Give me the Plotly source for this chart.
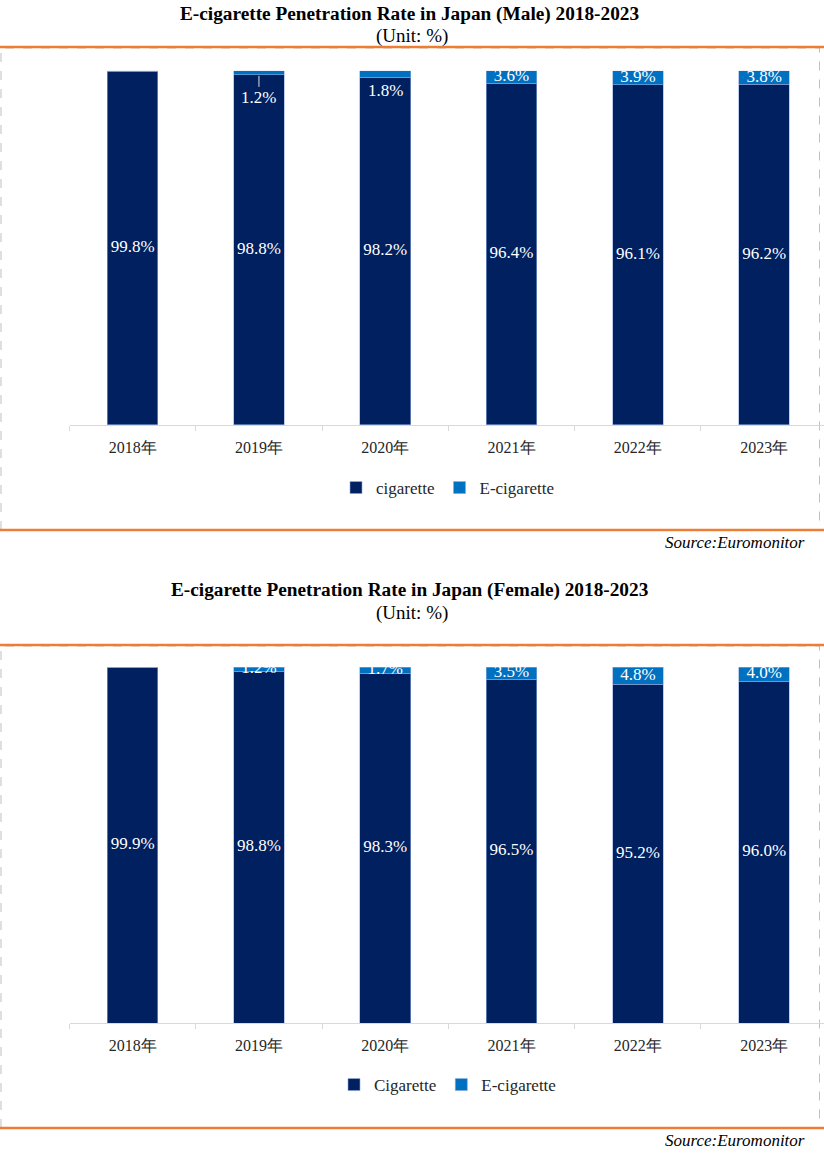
import plotly.graph_objects as go

# ---------------- data ----------------
years = ["2018年", "2019年", "2020年", "2021年", "2022年", "2023年"]
male_cig = [99.8, 98.8, 98.2, 96.4, 96.1, 96.2]
male_ecig = [0.2, 1.2, 1.8, 3.6, 3.9, 3.8]
female_cig = [99.9, 98.8, 98.3, 96.5, 95.2, 96.0]
female_ecig = [0.1, 1.2, 1.7, 3.5, 4.8, 4.0]

title_male = "E-cigarette Penetration Rate in Japan (Male) 2018-2023"
title_female = "E-cigarette Penetration Rate in Japan (Female) 2018-2023"
unit_text = "(Unit: %)"
source_text = "Source:Euromonitor"
legend_male = ["cigarette", "E-cigarette"]
legend_female = ["Cigarette", "E-cigarette"]

# ---------------- style ----------------
W, H = 824, 1158
SERIF = "Liberation Serif"
NAVY = "#002060"
BLUE = "#0070C0"
ORANGE = "#ED7D31"
EDGE = "#8FAADC"
TXT = "#262626"


def py(p):
    """pixel row -> paper y"""
    return 1 - p / H


def px(p):
    return p / W


fig = go.Figure()


def add_chart(cig, ecig, names, xa, ya, legend, small_shift):
    fig.add_trace(go.Bar(x=years, y=cig, name=names[0], marker=dict(color=NAVY, line=dict(color=EDGE, width=0.6)),
                         xaxis=xa, yaxis=ya, legend=legend, hoverinfo="skip"))
    fig.add_trace(go.Bar(x=years, y=ecig, name=names[1], marker=dict(color=BLUE, line=dict(color=EDGE, width=0.6)),
                         xaxis=xa, yaxis=ya, legend=legend, hoverinfo="skip"))
    # cigarette labels (middle of segment)
    fig.add_trace(go.Scatter(x=years, y=[c / 2 for c in cig], mode="text",
                             text=[f"{c:.1f}%" for c in cig],
                             textfont=dict(family=SERIF, size=17, color="white"),
                             xaxis=xa, yaxis=ya, showlegend=False, hoverinfo="skip", cliponaxis=True))
    # e-cigarette labels (middle of segment, clipped by plot area)
    xs, ys, ts = [], [], []
    for i, (c, e) in enumerate(zip(cig, ecig)):
        if e < 1 or i in small_shift:
            continue
        xs.append(years[i]); ys.append(c + e / 2); ts.append(f"{e:.1f}%")
    fig.add_trace(go.Scatter(x=xs, y=ys, mode="text", text=ts,
                             textfont=dict(family=SERIF, size=17, color="white"),
                             xaxis=xa, yaxis=ya, showlegend=False, hoverinfo="skip", cliponaxis=True))
    # shifted small labels
    for i, (shift, arrow) in small_shift.items():
        c, e = cig[i], ecig[i]
        if arrow:
            fig.add_annotation(x=years[i], y=c + e / 2, xref=xa, yref=ya, text=f"{e:.1f}%",
                               showarrow=True, arrowhead=0, ax=0, ay=-shift, arrowcolor="#E0E0E0",
                               arrowwidth=1, standoff=3,
                               font=dict(family=SERIF, size=17, color="white"))
        else:
            fig.add_annotation(x=years[i], y=c + e / 2, xref=xa, yref=ya, text=f"{e:.1f}%",
                               showarrow=False, yshift=shift,
                               font=dict(family=SERIF, size=17, color="white"))


add_chart(male_cig, male_ecig, legend_male, "x", "y", "legend", {1: (-25, True), 2: (-17, False)})
add_chart(female_cig, female_ecig, legend_female, "x2", "y2", "legend2", {})

xaxis_style = dict(type="category", range=[-0.5, 5.474], showline=True, linecolor="#D9D9D9", linewidth=1,
                   ticks="outside", tickson="boundaries", ticklen=5, tickcolor="#D9D9D9",
                   ticklabelstandoff=8,
                   tickfont=dict(family=SERIF, size=16, color=TXT), showgrid=False, zeroline=False,
                   fixedrange=True)
yaxis_style = dict(range=[0, 100], visible=False, showgrid=False, zeroline=False, fixedrange=True)

legend_style = dict(orientation="h", xanchor="left", yanchor="middle", traceorder="normal",
                    font=dict(family=SERIF, size=17, color=TXT), bgcolor="rgba(0,0,0,0)",
                    itemwidth=30, tracegroupgap=0)

fig.update_layout(
    width=W, height=H, margin=dict(l=0, r=0, t=0, b=0),
    paper_bgcolor="white", plot_bgcolor="white",
    barmode="stack", bargap=0.6,
    font=dict(family=SERIF, color=TXT),
    xaxis=dict(domain=[px(69.5), 1], anchor="y", **xaxis_style),
    yaxis=dict(domain=[py(425), py(70.7)], anchor="x", **yaxis_style),
    xaxis2=dict(domain=[px(69.5), 1], anchor="y2", **xaxis_style),
    yaxis2=dict(domain=[py(1023), py(667)], anchor="x2", **yaxis_style),
    legend=dict(x=px(336), y=py(488), **legend_style),
    legend2=dict(x=px(334), y=py(1085), **legend_style),
    showlegend=True,
)

# titles, units, sources
for title, ty, uy, sy in [(title_male, 14, 36.5, 542), (title_female, 590, 613, 1140)]:
    fig.add_annotation(x=0.497, y=py(ty), xref="paper", yref="paper", text=f"<b>{title}</b>",
                       showarrow=False, xanchor="center", yanchor="middle",
                       font=dict(family=SERIF, size=19.3, color="black"))
    fig.add_annotation(x=0.5, y=py(uy), xref="paper", yref="paper", text=unit_text,
                       showarrow=False, xanchor="center", yanchor="middle",
                       font=dict(family=SERIF, size=19, color="black"))
    fig.add_annotation(x=px(807), y=py(sy), xref="paper", yref="paper", text=f"<i>{source_text}</i>",
                       showarrow=False, xanchor="right", yanchor="middle",
                       font=dict(family=SERIF, size=17, color="black"))

# frames: dashed grey box and orange rules
for top, bot in [(48, 530), (646, 1128)]:
    fig.add_shape(type="rect", xref="paper", yref="paper", x0=px(1), x1=px(819.5), y0=py(bot), y1=py(top),
                  line=dict(color="#BFBFBF", width=1, dash="dash"), layer="below")
    for yy in (top - 1, bot):
        fig.add_shape(type="line", xref="paper", yref="paper", x0=0, x1=1, y0=py(yy), y1=py(yy),
                      line=dict(color=ORANGE, width=2.5), layer="above")

fig.write_html("out.html", config={"displayModeBar": False},
               post_script="document.body.style.margin='0';document.body.style.overflow='hidden';")
